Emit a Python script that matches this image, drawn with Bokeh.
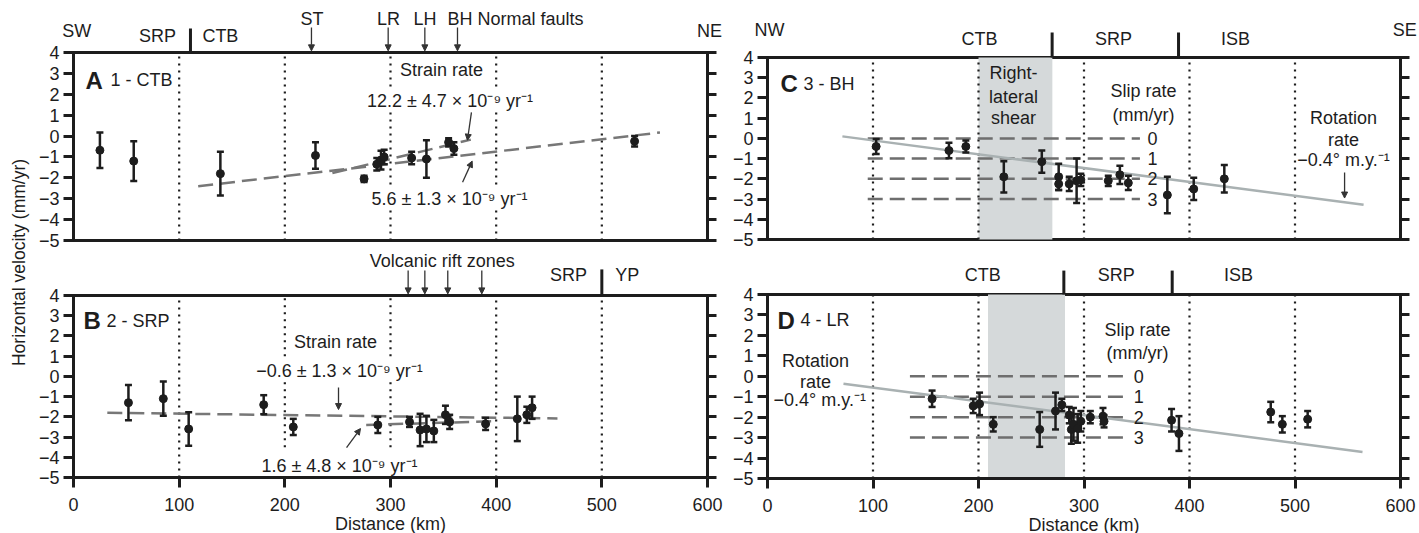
import numpy as np
from bokeh.plotting import figure
from bokeh.models import (Range1d, LinearAxis, FixedTicker, Label, Arrow,
                          NormalHead, CustomJSTickFormatter)
from bokeh.layouts import row, column
from bokeh.core.properties import value
from bokeh.embed import file_html
from bokeh.resources import INLINE

FONT = "Liberation Sans"
FS = "18px"
INK = "#1d1d1d"
ARROW_INK = "#333333"
DASH_GREY = "#777777"
SLIP_GREY = "#6e6e6e"
ROT_GREY = "#a9b1b2"
SHADE = "#d5d9da"

# ---------------- data ----------------
Y_TICKS = [-5, -4, -3, -2, -1, 0, 1, 2, 3, 4]
X_TICKS = [0, 100, 200, 300, 400, 500, 600]
GRID_KM = [100, 200, 300, 400, 500]
SLIP_RATES = [0, 1, 2, 3]

# Panel A: 1 - CTB
A_km = [25, 57, 139, 229, 275, 287, 291, 294, 320, 334, 355, 360, 531]
A_vel = [-0.68, -1.2, -1.8, -0.93, -2.05, -1.35, -1.15, -1.0, -1.05, -1.1, -0.3, -0.6, -0.25]
A_err = [0.85, 0.95, 1.05, 0.63, 0.15, 0.3, 0.45, 0.35, 0.3, 0.9, 0.2, 0.3, 0.25]
A_fit_long_km = [118, 555]
A_fit_long_vel = [-2.4, 0.17]
A_fit_short_km = [245, 376]
A_fit_short_vel = [-1.77, -0.17]

# Panel B: 2 - SRP
B_km = [52, 85, 109, 180, 208, 288, 318, 328, 334, 341, 352, 356, 390, 420, 429, 434]
B_vel = [-1.3, -1.1, -2.6, -1.4, -2.5, -2.4, -2.25, -2.65, -2.6, -2.7, -1.9, -2.25, -2.35, -2.1, -1.9, -1.55]
B_err = [0.87, 0.85, 0.83, 0.47, 0.4, 0.4, 0.25, 0.8, 0.65, 0.55, 0.45, 0.35, 0.3, 1.1, 0.4, 0.55]
B_fit_long_km = [32, 458]
B_fit_long_vel = [-1.8, -2.08]
B_fit_short_km = [277, 398]
B_fit_short_vel = [-2.4, -2.22]

# Panel C: 3 - BH
C_km = [103, 172, 188, 224, 260, 276, 276, 286, 293, 297, 323, 334, 342, 379, 404, 433]
C_vel = [-0.4, -0.6, -0.4, -1.9, -1.15, -1.9, -2.25, -2.25, -2.1, -2.05, -2.1, -1.8, -2.2, -2.8, -2.5, -2.0]
C_err = [0.37, 0.38, 0.3, 0.77, 0.55, 0.65, 0.3, 0.35, 1.1, 0.3, 0.25, 0.45, 0.35, 0.9, 0.55, 0.68]
C_rot_km = [71, 565]
C_rot_vel = [0.1, -3.28]
C_shear_km = [200, 270]
C_slip_km = [95, 353]

# Panel D: 4 - LR
D_km = [156, 195, 201, 214, 258, 273, 279, 286, 288, 290, 294, 297, 306, 318, 319, 383, 390, 477, 488, 512]
D_vel = [-1.1, -1.45, -1.35, -2.35, -2.6, -1.7, -1.4, -1.9, -2.6, -2.35, -2.55, -2.2, -2.0, -1.95, -2.2, -2.15, -2.8, -1.75, -2.35, -2.1]
D_err = [0.4, 0.35, 0.55, 0.35, 0.85, 0.9, 0.3, 0.4, 0.7, 0.8, 0.7, 0.5, 0.3, 0.4, 0.3, 0.55, 0.85, 0.5, 0.4, 0.4]
D_rot_km = [72, 564]
D_rot_vel = [-0.36, -3.7]
D_shear_km = [209, 282]
D_slip_km = [135, 342]


# ---------------- helpers (pixel layout -> ranges) ----------------
def yrange(frame_top, frame_bot, px4, px5):
    k = 9.0 / (px5 - px4)
    return Range1d(-5 - (frame_bot - px5) * k, 4 + (px4 - frame_top) * k)


def xrange(fig_left, fig_right, px0, px600):
    k = 600.0 / (px600 - px0)
    return Range1d((fig_left - px0) * k, (fig_right - px0) * k)


AX = dict(axis_line_width=3, axis_line_color=INK, major_tick_line_width=3,
          major_tick_line_color=INK, major_tick_in=0, minor_tick_line_color=None,
          major_label_text_font=FONT, major_label_text_font_size=FS,
          major_label_text_color=INK)


def panel(width, height, xr, yr, bottom_axis):
    p = figure(width=width, height=height, x_range=xr, y_range=yr, title=None,
               output_backend="svg", toolbar_location=None,
               x_axis_location=None, y_axis_location=None,
               min_border_left=0, min_border_right=0, min_border_top=0,
               min_border_bottom=0)
    p.grid.visible = False
    p.outline_line_color = None
    fmt = CustomJSTickFormatter(code="return String(tick).replace('-', '\\u2212');")
    left = LinearAxis(fixed_location=X_TICKS[0], bounds=(-5, 4),
                      ticker=FixedTicker(ticks=Y_TICKS), formatter=fmt,
                      major_tick_out=10, major_label_standoff=4, **AX)
    p.add_layout(left, "left")
    right = LinearAxis(fixed_location=X_TICKS[-1], bounds=(-5, 4),
                       ticker=FixedTicker(ticks=Y_TICKS),
                       formatter=CustomJSTickFormatter(code="return '';"),
                       major_tick_out=9, major_label_standoff=0, **AX)
    p.add_layout(right, "right")
    p.segment([X_TICKS[0]], [4], [X_TICKS[-1]], [4], line_width=3, line_color=INK,
              line_cap="square")
    if bottom_axis:
        bx = LinearAxis(fixed_location=-5, ticker=FixedTicker(ticks=X_TICKS),
                        bounds=(X_TICKS[0], X_TICKS[-1]),
                        major_tick_out=10, major_label_standoff=10,
                        axis_label="Distance (km)",
                        axis_label_text_font=FONT, axis_label_text_font_size=FS,
                        axis_label_text_font_style="normal", axis_label_text_color=INK,
                        axis_label_standoff=0, **AX)
        p.add_layout(bx, "below")
    else:
        p.segment([X_TICKS[0]], [-5], [X_TICKS[-1]], [-5], line_width=3, line_color=INK,
                  line_cap="square")
    return p


def txt(p, x, y, s, size=FS, align="center", baseline="middle", bold=False, bg=None):
    lab = Label(x=x, y=y, text=s, text_font=FONT, text_font_size=size,
                text_align=align, text_baseline=baseline, text_color=INK,
                text_font_style="bold" if bold else "normal")
    if bg:
        lab.background_fill_color = bg
    p.add_layout(lab)


def arrow(p, x0, y0, x1, y1):
    p.add_layout(Arrow(end=NormalHead(size=6, fill_color=ARROW_INK, line_color=ARROW_INK,
                                      line_width=1),
                       x_start=x0, y_start=y0, x_end=x1, y_end=y1,
                       line_width=1.3, line_color=ARROW_INK))


def dotted(p, xs, y0s, y1s):
    p.segment(xs, y0s, xs, y1s, line_dash="2 5", line_width=2.2, line_color=INK)


def points(p, km, vel, err):
    km = np.asarray(km, float)
    vel = np.asarray(vel, float)
    err = np.asarray(err, float)
    p.segment(km, vel - err, km, vel + err, line_width=2.5, line_color=INK)
    p.scatter(np.concatenate([km, km]), np.concatenate([vel - err, vel + err]),
              marker="dash", size=7, line_width=2.5, line_color=INK)
    p.scatter(km, vel, size=8, fill_color=INK, line_color=INK)


def bars(p, xs, y0, y1):
    p.segment(xs, [y0] * len(xs), xs, [y1] * len(xs), line_width=3, line_color=INK)


def slip_lines(p, xr, label_x):
    ys = [-r for r in SLIP_RATES]
    p.segment([xr[0]] * len(ys), ys, [xr[1]] * len(ys), ys, line_dash="15 7",
              line_width=2.5, line_color=SLIP_GREY)
    for r in SLIP_RATES:
        txt(p, label_x, -r, str(r))


SPLIT = 250   # screen y where the top row ends
BOTTOM = 533
X_LEFT, X_MID, X_RIGHT = 37, 732, 1418
SUP = "10\u207b\u2079 yr\u207b\u00b9"

# ---------------- Panel A ----------------
pA = panel(X_MID - X_LEFT, SPLIT, xrange(X_LEFT, X_MID, 73, 707),
           yrange(0, SPLIT, 52, 240), False)
dotted(pA, GRID_KM, [-5] * 5, [4] * 5)
pA.line(A_fit_long_km, A_fit_long_vel, line_dash="15 7", line_width=2.5, line_color=DASH_GREY)
pA.line(A_fit_short_km, A_fit_short_vel, line_dash="15 7", line_width=2.5, line_color=DASH_GREY)
points(pA, A_km, A_vel, A_err)
txt(pA, 11.4, 2.66, "A", size="24px", align="left", baseline="alphabetic", bold=True)
txt(pA, 35, 2.66, "1 - CTB", align="left", baseline="alphabetic")
txt(pA, 3, 5.05, "SW")
txt(pA, 602, 5.05, "NE")
txt(pA, 79.5, 4.77, "SRP")
txt(pA, 139, 4.77, "CTB")
bars(pA, [110.7], 4, 5.15)
txt(pA, 225.7, 5.58, "ST")
txt(pA, 298, 5.58, "LR")
txt(pA, 332.6, 5.58, "LH")
txt(pA, 354, 5.58, "BH Normal faults", align="left")
for xk in [225.2, 297.8, 332.5, 363.4]:
    arrow(pA, xk, 5.2, xk, 4.08)
txt(pA, 348.3, 3.14, "Strain rate")
txt(pA, 356.3, 1.70, "12.2 \u00b1 4.7 \u00d7 " + SUP, bg="white")
arrow(pA, 376.6, 1.13, 372.8, -0.2)
txt(pA, 355.8, -2.99, "5.6 \u00b1 1.3 \u00d7 " + SUP, bg="white")
arrow(pA, 368.2, -2.21, 377.3, -1.2)

# ---------------- Panel B ----------------
pB = panel(X_MID - X_LEFT, BOTTOM - SPLIT, xrange(X_LEFT, X_MID, 73, 707),
           yrange(SPLIT, BOTTOM, 295, 477), True)
dotted(pB, GRID_KM, [-5, -3.5, -3.5, -5, -5], [4] * 5)
pB.line(B_fit_long_km, B_fit_long_vel, line_dash="15 7", line_width=2.5, line_color=DASH_GREY)
pB.line(B_fit_short_km, B_fit_short_vel, line_dash="15 7", line_width=2.5, line_color=DASH_GREY)
points(pB, B_km, B_vel, B_err)
txt(pB, 9.5, 2.76, "B", size="24px", align="left", baseline="alphabetic", bold=True)
txt(pB, 31.2, 2.76, "2 - SRP", align="left", baseline="alphabetic")
txt(pB, 349, 5.73, "Volcanic rift zones")
for xk in [316.7, 332.5, 354.2, 386.4]:
    arrow(pB, xk, 5.24, xk, 4.08)
txt(pB, 468.4, 4.99, "SRP")
txt(pB, 524, 4.99, "YP")
bars(pB, [500], 4, 5.29)
txt(pB, 248, 1.72, "Strain rate")
txt(pB, 251.7, 0.29, "\u22120.6 \u00b1 1.3 \u00d7 " + SUP, bg="white")
arrow(pB, 250.8, -0.55, 250.8, -1.64)
txt(pB, 251.7, -4.41, "1.6 \u00b1 4.8 \u00d7 " + SUP, bg="white")
arrow(pB, 258.4, -3.52, 271.6, -2.58)

# ---------------- Panel C ----------------
pC = panel(X_RIGHT - X_MID, SPLIT, xrange(X_MID, X_RIGHT, 767, 1400),
           yrange(0, SPLIT, 57, 239), False)
pC.quad(left=[C_shear_km[0]], right=[C_shear_km[1]], bottom=[-5], top=[4],
        fill_color=SHADE, line_color=None)
dotted(pC, GRID_KM, [-5] * 5, [4] * 5)
slip_lines(pC, C_slip_km, 365)
pC.line(C_rot_km, C_rot_vel, line_width=2.5, line_color=ROT_GREY)
points(pC, C_km, C_vel, C_err)
txt(pC, 12.3, 2.71, "C", size="24px", align="left", baseline="alphabetic", bold=True)
txt(pC, 34.1, 2.71, "3 - BH", align="left", baseline="alphabetic")
txt(pC, 2, 5.38, "NW")
txt(pC, 604, 5.38, "SE")
txt(pC, 201, 4.91, "CTB")
txt(pC, 328, 4.91, "SRP")
txt(pC, 443.6, 4.91, "ISB")
bars(pC, [269.8, 389.6], 4, 5.24)
txt(pC, 233.2, 3.21, "Right-")
txt(pC, 233.2, 2.07, "lateral")
txt(pC, 233.2, 1.03, "shear")
txt(pC, 356.4, 2.32, "Slip rate")
txt(pC, 356.4, 1.18, "(mm/yr)")
txt(pC, 546, 1.03, "Rotation")
txt(pC, 546, -0.06, "rate")
txt(pC, 546, -1.09, "\u22120.4\u00b0 m.y.\u207b\u00b9")
arrow(pC, 547, -1.69, 547, -2.95)

# ---------------- Panel D ----------------
pD = panel(X_RIGHT - X_MID, BOTTOM - SPLIT, xrange(X_MID, X_RIGHT, 767, 1400),
           yrange(SPLIT, BOTTOM, 294, 478), True)
pD.quad(left=[D_shear_km[0]], right=[D_shear_km[1]], bottom=[-5], top=[4],
        fill_color=SHADE, line_color=None)
dotted(pD, GRID_KM, [-5] * 5, [4] * 5)
slip_lines(pD, D_slip_km, 352)
pD.line(D_rot_km, D_rot_vel, line_width=2.5, line_color=ROT_GREY)
points(pD, D_km, D_vel, D_err)
txt(pD, 9.5, 2.73, "D", size="24px", align="left", baseline="alphabetic", bold=True)
txt(pD, 31.3, 2.73, "4 - LR", align="left", baseline="alphabetic")
txt(pD, 204, 4.93, "CTB")
txt(pD, 330.5, 4.93, "SRP")
txt(pD, 446.4, 4.93, "ISB")
bars(pD, [280.9, 383.6], 4, 5.17)
txt(pD, 350.7, 2.24, "Slip rate")
txt(pD, 350.7, 1.16, "(mm/yr)")
txt(pD, 45.5, 0.77, "Rotation")
txt(pD, 45.5, -0.26, "rate")
txt(pD, 49.5, -1.14, "\u22120.4\u00b0 m.y.\u207b\u00b9")

# ---------------- shared y label ----------------
yl = figure(width=X_LEFT, height=BOTTOM, x_range=Range1d(0, X_LEFT), y_range=Range1d(0, BOTTOM),
            title=None, output_backend="svg", toolbar_location=None,
            x_axis_location=None, y_axis_location=None,
            min_border_left=0, min_border_right=0, min_border_top=0, min_border_bottom=0)
yl.grid.visible = False
yl.outline_line_color = None
yl.text(x=[18], y=[BOTTOM - 262], text=["Horizontal velocity (mm/yr)"], angle=np.pi / 2,
        text_align="center", text_baseline="middle", text_font=value(FONT),
        text_font_size="17.5px", text_color=INK)

layout = row(yl, column(row(pA, pC), row(pB, pD)))

open("out.html", "w").write(file_html(layout, INLINE))
